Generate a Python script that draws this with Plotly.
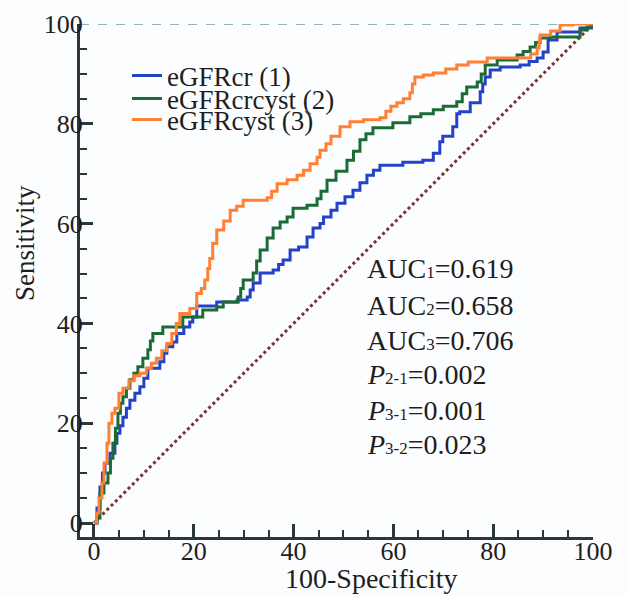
import plotly.graph_objects as go

# ---- data ----
cr_x = [0, 0.6, 1.2, 1.7, 2.2, 3.2, 4.2, 4.6, 5.2, 5.8, 6.5, 7.2, 8.2, 9.2, 10, 10.8, 13.2, 14, 14.6, 15.8,
        16.6, 18, 19.2, 19.8, 20.6, 24.6, 28.7, 30.7, 31.3, 31.9, 33.3, 35.9, 37, 37.9, 39.3, 41, 42.7, 43.9,
        45.3, 46, 47.5, 48.7, 50.3, 51.9, 53.3, 54.7, 56, 57.3, 61.9, 65.9, 68, 69.3, 69.9, 71.9, 72.7, 73.3,
        75.4, 77.4, 77.9, 78.4, 79.4, 81.4, 85.4, 87.2, 88.8, 90, 91, 92.8, 97.4, 100]
cr_y = [0, 3, 7.2, 10, 12, 14, 16, 18, 19.5, 21.2, 23, 24.6, 26, 27.3, 29, 31, 32.3, 34, 35.3, 36.3,
        38, 39.3, 40.3, 41.3, 43.5, 44.3, 44.7, 45.3, 46.7, 48.1, 50.1, 50.7, 51.8, 52.7, 54.7, 55.3, 57.3, 59.1,
        60, 61.3, 62.7, 64.1, 65.4, 66.7, 68.2, 69.7, 70.7, 71.7, 72.3, 72.7, 74.1, 76.4, 77.5, 79.4, 82, 82.4,
        84.2, 86.4, 88, 89.4, 90.8, 91.4, 91.8, 92.5, 93.2, 94.4, 96.8, 98.4, 99.2, 100]

crcyst_x = [0, 0.6, 1.2, 2, 2.8, 3.3, 3.8, 4.3, 4.8, 5.3, 5.8, 6.5, 7.2, 8, 8.8, 9.8, 10.8, 11.3, 11.8, 13.8,
            15.2, 17.8, 19.2, 21.8, 24.6, 25.9, 28.9, 29.4, 29.9, 31.9, 32.6, 33.3, 34.7, 35.9, 37.3, 38.7, 39.9,
            42.7, 44.7, 45.5, 46.7, 48.5, 50.7, 52, 53.3, 54.5, 55.9, 59.9, 63.3, 65.5, 68, 70, 72.7, 73.8, 74.7,
            76.8, 77.6, 78.4, 80.8, 84.8, 86, 87.4, 88.5, 89.4, 91.4, 96.8, 97.4, 98.8, 100]
crcyst_y = [0, 1, 6, 8, 10, 13, 16, 19, 22, 24, 25.3, 27, 28.7, 30, 31.3, 33, 34.7, 36.5, 38, 39.3,
            39.3, 41.3, 41.3, 42.7, 43.3, 44.3, 45.3, 47, 48.7, 50.1, 52.5, 54.7, 57.1, 59.1, 60.3, 61.3, 63.1,
            63.7, 65, 66.5, 68.7, 70.5, 72.7, 74.5, 76.8, 78, 79.2, 80.2, 81.4, 82, 82.8, 83.5, 84.4, 86, 87.4,
            88.4, 90, 91.8, 92.8, 93.8, 94.5, 95.4, 96.3, 97.2, 97.4, 97.4, 98.8, 99.4, 100]

cyst_x = [0, 0.5, 1, 1.6, 2, 2.6, 3, 3.6, 4.2, 5, 5.8, 7, 8, 9.2, 10.5, 11.5, 12.5, 13.6, 14.6, 15.6,
          16.5, 17.2, 19.2, 20.6, 21.5, 22.2, 22.8, 23.2, 23.8, 24.6, 26, 27.3, 28.6, 29.9, 32, 34.7, 35.6, 36.7,
          38.7, 40.7, 42, 43.3, 44.7, 45.3, 46.5, 47.5, 49.3, 51.3, 54, 57.3, 58.5, 59.5, 60.7, 62, 63.3, 63.8,
          64.3, 66, 68, 70.5, 72.7, 75, 78.8, 82, 86, 87.5, 88.8, 89.2, 89.4, 91.5, 93.4, 96, 100]
cyst_y = [0, 2, 5, 8, 12, 16, 20, 22, 23, 26, 27, 28.5, 29.5, 30, 31, 32, 33, 34.5, 36, 38,
          40, 42, 43, 46, 47, 48.7, 51, 53, 56, 58.7, 60.5, 62.7, 63.5, 64.7, 64.7, 65.2, 66.5, 68,
          68.8, 69.7, 70.7, 72, 73.3, 74.7, 76, 77.5, 79.4, 80.4, 80.8, 81.2, 82.5, 83.5, 84.2, 85, 86.2, 88,
          89.4, 89.8, 90.2, 91, 91.8, 92.4, 93.2, 93.2, 93.2, 94, 95.2, 96.5, 97.8, 98.6, 99.8, 100, 100]

ref_x = [0, 100]
ref_y = [0, 100]

series_names = ["eGFRcr (1)", "eGFRcrcyst (2)", "eGFRcyst (3)"]
auc_labels = ["AUC<span style='font-size:17px'>1</span>=0.619",
              "AUC<span style='font-size:17px'>2</span>=0.658",
              "AUC<span style='font-size:17px'>3</span>=0.706",
              "<i>P</i><span style='font-size:17px'>2-1</span>=0.002",
              "<i>P</i><span style='font-size:17px'>3-1</span>=0.001",
              "<i>P</i><span style='font-size:17px'>3-2</span>=0.023"]
auc_y = [51.1, 43.6, 36.6, 29.8, 22.5, 15.7]

tick_vals = [0, 20, 40, 60, 80, 100]

FONT = "Liberation Serif"
TXT = "#1e1e1e"
AX = "#2b3838"

fig = go.Figure()

fig.add_trace(go.Scatter(x=ref_x, y=ref_y, mode="lines", showlegend=False,
                         line=dict(color="#6e3a2e", width=3, dash="dot")))

colors = ["#2442c8", "#1c6b34", "#ff7f33"]
data = [(cr_x, cr_y), (crcyst_x, crcyst_y), (cyst_x, cyst_y)]
legends = ["legend", "legend2", "legend3"]
for (xs, ys), name, c, lg in zip(data, series_names, colors, legends):
    fig.add_trace(go.Scatter(x=xs, y=ys, mode="lines", name=name, line_shape="hv",
                             line=dict(color=c, width=3), legend=lg))

fig.add_shape(type="line", xref="paper", x0=0, x1=1, yref="y", y0=100, y1=100,
              line=dict(color="#6f98b3", width=1.5, dash="dash"), layer="below")

for lab, yy in zip(auc_labels, auc_y):
    fig.add_annotation(x=54.3, y=yy, xref="x", yref="y", text=lab, showarrow=False,
                       xanchor="left", yanchor="middle", font=dict(family=FONT, size=28, color=TXT))

# axis titles placed as in the reference
fig.add_annotation(xref="paper", yref="paper", x=(25 - 80) / 513, y=(537 - 243) / 513,
                   text="Sensitivity", showarrow=False, textangle=-90,
                   xanchor="center", yanchor="middle", font=dict(family=FONT, size=27, color=TXT))
fig.add_annotation(xref="paper", yref="paper", x=(371 - 80) / 513, y=-(578 - 537) / 513,
                   text="100-Specificity", showarrow=False, xanchor="center", yanchor="middle",
                   font=dict(family=FONT, size=28, color=TXT))

leg_common = dict(font=dict(family=FONT, size=27, color=TXT), bgcolor="rgba(0,0,0,0)",
                  xanchor="left", yanchor="middle", x=(127 - 80) / 513, tracegroupgap=0)
fig.update_layout(
    legend=dict(**leg_common, y=(537 - 76) / 513),
    legend2=dict(**leg_common, y=(537 - 99) / 513),
    legend3=dict(**leg_common, y=(537 - 120) / 513),
)

axis_common = dict(range=[-2.8, 100], tickvals=tick_vals, ticks="inside", ticklen=13, tickwidth=2.5,
                   tickcolor=AX, showline=True, linecolor=AX, linewidth=3, showgrid=False,
                   zeroline=False, automargin=False, tickfont=dict(family=FONT, size=26, color=TXT),
                   minor=dict(dtick=5, ticks="inside", ticklen=7, tickwidth=2, tickcolor=AX, showgrid=False))
fig.update_xaxes(**axis_common, ticklabelstandoff=-11)
fig.update_yaxes(**axis_common, ticklabelstandoff=-11)

fig.update_layout(
    width=627, height=596,
    margin=dict(l=80, r=34, t=24, b=59, autoexpand=False),
    paper_bgcolor="#fcfdff", plot_bgcolor="#fcfdff",
    showlegend=True,
)

fig.write_html("out.html", config={"displayModeBar": False},
               post_script="document.body.style.margin='0';document.body.style.overflow='hidden';")
